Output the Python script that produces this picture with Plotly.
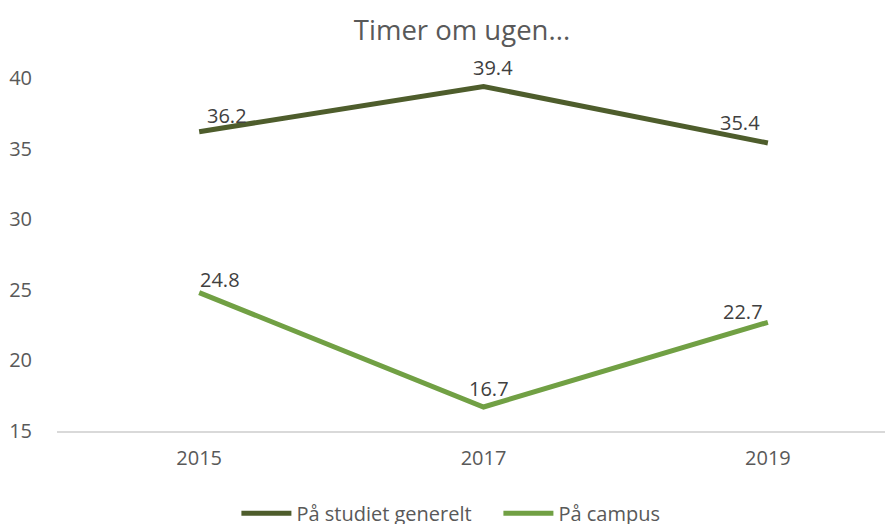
import plotly.graph_objects as go

years = ["2015", "2017", "2019"]
studiet = [36.2, 39.4, 35.4]
campus = [24.8, 16.7, 22.7]

# label offsets (px) from each point, as in the original
studiet_shift = [(28, 16), (9, 19), (-28, 20)]
campus_shift = [(21, 13), (5, 19), (-25, 11)]

font = "Open Sans, Noto Sans, sans-serif"
dark = "#4E5D2C"
light = "#71A044"

fig = go.Figure()
fig.add_trace(go.Scatter(x=years, y=studiet, name="På studiet generelt", mode="lines",
                         line=dict(color=dark, width=5)))
fig.add_trace(go.Scatter(x=years, y=campus, name="På campus", mode="lines",
                         line=dict(color=light, width=5)))

for vals, shifts in [(studiet, studiet_shift), (campus, campus_shift)]:
    for i, (v, (dx, dy)) in enumerate(zip(vals, shifts)):
        # category axis: annotations take the category index
        fig.add_annotation(x=i, y=v, xref="x", yref="y", text=f"{v:.1f}", showarrow=False,
                           xanchor="center", yanchor="middle", xshift=dx, yshift=dy,
                           font=dict(size=20, color="#404040", family=font))

# page has an 8px body margin, so the figure is sized to the visible window
fig.update_layout(
    width=885, height=516,
    margin=dict(l=49, r=0, t=70, b=93),
    paper_bgcolor="white", plot_bgcolor="white",
    font=dict(family=font, color="#595959", size=20),
    title=dict(text="Timer om ugen...", x=0.513, xanchor="center", yref="container",
               y=0.957, yanchor="middle", font=dict(size=27.5, color="#595959")),
    showlegend=True,
    legend=dict(orientation="h", x=0.528, xanchor="center", yref="container", y=0.021,
                yanchor="middle", font=dict(size=20, color="#595959"), itemwidth=50,
                entrywidth=197, entrywidthmode="pixels"),
)
fig.update_xaxes(type="category", range=[-0.5, 2.44], showgrid=False, automargin=False,
                 showline=True, linecolor="#D9D9D9", linewidth=1.5,
                 ticks="", ticklabelstandoff=8, tickfont=dict(size=20, color="#595959"))
fig.update_yaxes(range=[15, 40], dtick=5, showgrid=False, zeroline=False, automargin=False,
                 showline=False, ticks="", ticklabelstandoff=24,
                 tickfont=dict(size=20, color="#595959"))

fig.write_html("out.html")
